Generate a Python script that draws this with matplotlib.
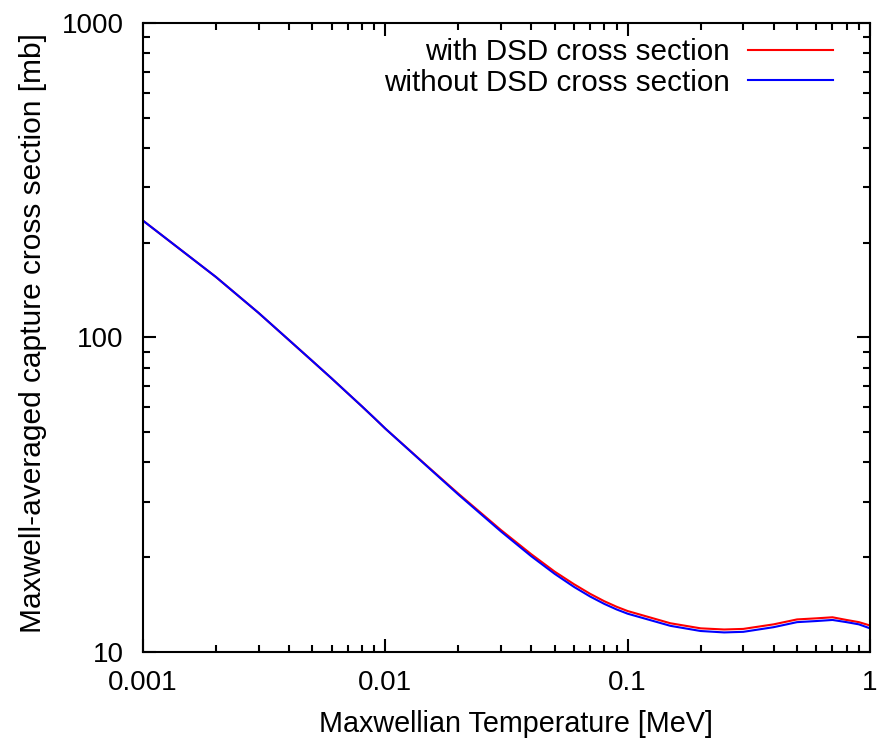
import numpy as np
import matplotlib
matplotlib.use("Agg")
import matplotlib.pyplot as plt
from matplotlib.ticker import LogLocator, FixedLocator, FixedFormatter, NullFormatter

plt.rcParams['font.family'] = ['Liberation Sans', 'DejaVu Sans']

# Maxwellian temperature [MeV]
temperature = [0.001, 0.002, 0.003, 0.004, 0.005, 0.006, 0.007, 0.008, 0.009,
               0.01, 0.015, 0.02, 0.03, 0.04, 0.05, 0.06, 0.07, 0.08, 0.09,
               0.1, 0.15, 0.2, 0.25, 0.3, 0.4, 0.5, 0.6, 0.7, 0.8, 0.9, 1.0]

# MACS [mb]
with_dsd = [235, 155.5, 119.5, 98, 84, 74, 66.3, 60.3, 55.35,
            51.2, 38.7, 31.8, 24.35, 20.4, 17.95, 16.38, 15.26, 14.46, 13.88,
            13.45, 12.3, 11.85, 11.75, 11.8, 12.2, 12.65, 12.75, 12.85, 12.6, 12.4, 12.1]
without_dsd = [235, 155.5, 119.5, 98, 84, 74, 66.3, 60.3, 55.35,
               51.2, 38.6, 31.6, 24.1, 20.1, 17.66, 16.06, 14.96, 14.18, 13.61,
               13.19, 12.07, 11.62, 11.5, 11.55, 11.95, 12.4, 12.5, 12.6, 12.4, 12.2, 11.85]

x_ticks = [0.001, 0.01, 0.1, 1]
x_labels = ['0.001', '0.01', '0.1', '1']
y_ticks = [10, 100, 1000]
y_labels = ['10', '100', '1000']

fig = plt.figure(figsize=(8.85, 7.43), dpi=100)
ax = fig.add_axes([143 / 885, 1 - 651.5 / 743, (870 - 143) / 885, (651.5 - 23) / 743])

ax.plot(temperature, with_dsd, color='#ff0000', lw=1.5, label='with DSD cross section')
ax.plot(temperature, without_dsd, color='#0000ff', lw=1.5, label='without DSD cross section')

ax.set_xscale('log')
ax.set_yscale('log')
ax.set_xlim(0.001, 1)
ax.set_ylim(10, 1000)

ax.xaxis.set_major_locator(FixedLocator(x_ticks))
ax.xaxis.set_major_formatter(FixedFormatter(x_labels))
ax.yaxis.set_major_locator(FixedLocator(y_ticks))
ax.yaxis.set_major_formatter(FixedFormatter(y_labels))
ax.xaxis.set_minor_locator(LogLocator(base=10, subs=np.arange(2, 10)))
ax.yaxis.set_minor_locator(LogLocator(base=10, subs=np.arange(2, 10)))
ax.xaxis.set_minor_formatter(NullFormatter())
ax.yaxis.set_minor_formatter(NullFormatter())

ax.tick_params(which='both', direction='in', top=True, right=True, width=1.5, labelsize=20)
ax.tick_params(which='major', length=9.5)
ax.tick_params(which='minor', length=5)
ax.tick_params(axis='x', pad=13)
ax.tick_params(axis='y', pad=14)
for s in ax.spines.values():
    s.set_linewidth(1.5)

ax.set_xlabel('Maxwellian Temperature [MeV]', fontsize=20.7)
ax.set_ylabel('Maxwell-averaged capture cross section [mb]', fontsize=21.5)
ax.xaxis.set_label_coords((516 - 143) / 727, -0.093)
ax.yaxis.set_label_coords((47 - 143) / 727, 0.507)

ax.legend(loc='upper right', bbox_to_anchor=(0.949, 1 - 15 / 628.5),
          frameon=False, markerfirst=False, fontsize=21.3, handlelength=2.87,
          handletextpad=0.61, labelspacing=0.09, borderpad=0, borderaxespad=0)

fig.savefig('out.png', dpi=100)
